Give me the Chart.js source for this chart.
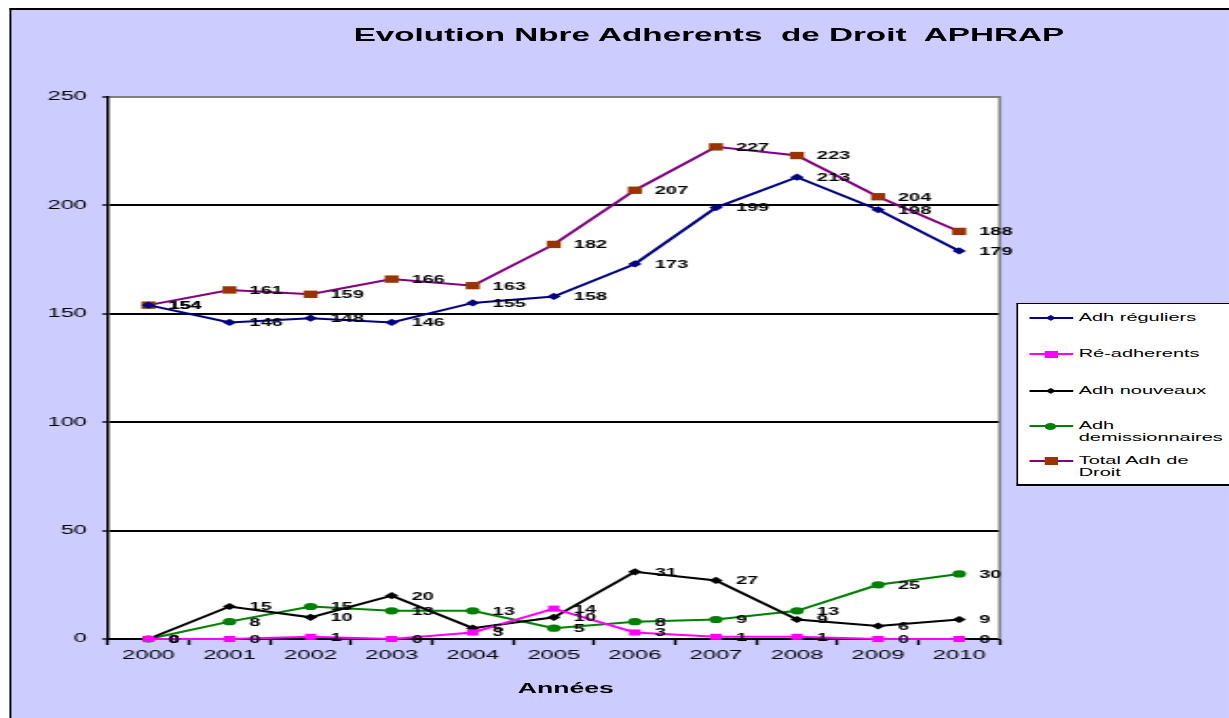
<!DOCTYPE html>
<html>
<head>
<meta charset="utf-8">
<script src="https://cdn.jsdelivr.net/npm/chart.js@4.4.0/dist/chart.umd.min.js"></script>
<style>
  html, body { margin: 0; padding: 0; background: #fff; overflow: hidden; }
  /* the original picture is stretched sideways, so the whole chart is too */
  #frame { position: absolute; left: 0; top: 0; width: 647px; height: 718px;
           transform: scaleX(1.8995); transform-origin: 0 0; overflow: hidden;
           font-family: Arial, "Liberation Sans", sans-serif; color: #000; }
  #bg { position: absolute; left: 5.3px; top: 8px; right: 0; bottom: 0; background: #ccccff;
        border-left: 1.6px solid #000; border-top: 2px solid #000; }
  #chart { position: absolute; left: 0; top: 0; }
  #title { position: absolute; top: 25px; left: 373.2px; transform: translateX(-50%);
           font-weight: bold; font-size: 17.5px; line-height: 20px; white-space: pre; }
  #xtitle { position: absolute; top: 679px; left: 297.9px; transform: translateX(-50%);
            font-weight: bold; font-size: 14px; line-height: 18px; white-space: pre; }
  #legend { position: absolute; left: 535.3px; top: 303px; width: 140px; height: 180px; background: #fff;
            border-left: 1.5px solid #000; border-top: 1.5px solid #000; border-bottom: 2.5px solid #000; }
  .lg-line { position: absolute; width: 22.6px; height: 1.8px; }
  .lg-mark { position: absolute; }
  .lg-text { position: absolute; font-size: 10.5px; line-height: 11.5px; white-space: nowrap; }
</style>
</head>
<body>
<div id="frame">
  <div id="bg"></div>
  <canvas id="chart" width="647" height="718"></canvas>
  <div id="title">Evolution Nbre Adherents  de Droit  APHRAP</div>
  <div id="xtitle">Années</div>
  <div id="legend"></div>
</div>
<script>
// data
const years = ['2000', '2001', '2002', '2003', '2004', '2005', '2006', '2007', '2008', '2009', '2010'];
const adhReguliers = [154, 146, 148, 146, 155, 158, 173, 199, 213, 198, 179];
const reAdherents = [0, 0, 1, 0, 3, 14, 3, 1, 1, 0, 0];
const adhNouveaux = [0, 15, 10, 20, 5, 10, 31, 27, 9, 6, 9];
const adhDemissionnaires = [0, 8, 15, 13, 13, 5, 8, 9, 13, 25, 30];
const totalAdhDroit = [154, 161, 159, 166, 163, 182, 207, 227, 223, 204, 188];
const yTicks = [0, 50, 100, 150, 200, 250];

const FONT = 'Arial, "Liberation Sans", sans-serif';

// white plot area + grey right edge
const plotFrame = {
  id: 'plotFrame',
  beforeDraw(chart) {
    const { ctx, chartArea: a } = chart;
    ctx.save();
    ctx.fillStyle = '#fff';
    ctx.fillRect(a.left, a.top, a.right - a.left, a.bottom - a.top);
    ctx.restore();
  },
  beforeDatasetsDraw(chart) {
    const { ctx, chartArea: a } = chart;
    ctx.save();
    ctx.strokeStyle = '#808080';
    ctx.lineWidth = 1.6;
    ctx.beginPath();
    ctx.moveTo(a.right, a.top - 1);
    ctx.lineTo(a.right, a.bottom);
    ctx.stroke();
    ctx.restore();
  }
};

// value next to every point
const valueLabels = {
  id: 'valueLabels',
  afterDatasetsDraw(chart) {
    const ctx = chart.ctx;
    ctx.save();
    ctx.font = 'bold 10.5px ' + FONT;
    ctx.fillStyle = '#000';
    ctx.textAlign = 'left';
    ctx.textBaseline = 'middle';
    chart.data.datasets.forEach((ds, i) => {
      chart.getDatasetMeta(i).data.forEach((pt, j) => {
        ctx.fillText(String(ds.data[j]), pt.x + 10.5, pt.y + 1);
      });
    });
    ctx.restore();
  }
};

function series(label, data, line, fill, style, radius) {
  return {
    label: label, data: data,
    borderColor: line, backgroundColor: fill,
    borderWidth: 2,
    pointStyle: style, pointRadius: radius,
    pointBackgroundColor: fill, pointBorderColor: fill, pointBorderWidth: 0,
    tension: 0, clip: false
  };
}

const datasets = [
  series('Adh réguliers', adhReguliers, '#000080', '#000080', 'rectRot', 3.6),
  series('Ré-adherents', reAdherents, '#ff00ff', '#ff00ff', 'rect', 4.3),
  series('Adh nouveaux', adhNouveaux, '#000000', '#000000', 'rectRot', 3.6),
  series('Adh demissionnaires', adhDemissionnaires, '#008000', '#008000', 'circle', 3.6),
  series('Total Adh de Droit', totalAdhDroit, '#800080', '#993300', 'rect', 5.2)
];

new Chart(document.getElementById('chart'), {
  type: 'line',
  data: { labels: years, datasets: datasets },
  options: {
    responsive: false,
    animation: false,
    devicePixelRatio: 1,
    events: [],
    layout: { padding: { left: 0, top: 97, right: 120.7, bottom: 0 } },
    plugins: { legend: { display: false }, tooltip: { enabled: false } },
    scales: {
      x: {
        offset: true,
        afterFit(scale) { scale.height = 79; },
        grid: { offset: true, drawOnChartArea: false, drawTicks: true, tickLength: 6, tickWidth: 1.4, color: '#000' },
        border: { display: true, color: '#000', width: 2 },
        ticks: { color: '#000', font: { family: FONT, size: 12.5 }, padding: 3, maxRotation: 0 }
      },
      y: {
        min: yTicks[0], max: yTicks[yTicks.length - 1],
        afterFit(scale) { scale.width = 56.8; },
        afterBuildTicks(scale) { scale.ticks = yTicks.map(v => ({ value: v })); },
        grid: {
          color: ctx => (ctx.tick && ctx.tick.value === 250 ? '#808080' : '#000'),
          lineWidth: 2, tickLength: 3, tickWidth: 1.4, tickColor: '#000'
        },
        border: { display: true, color: '#000', width: 1.5 },
        ticks: { color: '#000', font: { family: FONT, size: 12.5 }, padding: 8 }
      }
    }
  },
  plugins: [plotFrame, valueLabels]
});

// legend, built from the datasets
const legendRowY = [318, 354, 391, 426, 461];
const legendText = [['Adh réguliers'], ['Ré-adherents'], ['Adh nouveaux'], ['Adh', 'demissionnaires'], ['Total Adh de', 'Droit']];
const frame = document.getElementById('frame');

function addEl(cls, css, text) {
  const el = document.createElement('div');
  el.className = cls;
  Object.assign(el.style, css);
  if (text) el.innerHTML = text;
  frame.appendChild(el);
  return el;
}

datasets.forEach((ds, i) => {
  const y = legendRowY[i];
  addEl('lg-line', { left: '542.1px', top: (y - 0.9) + 'px', background: ds.borderColor });
  let w, h, extra = {};
  if (ds.pointStyle === 'rectRot') { w = 4.4; h = 4.4; extra.transform = 'rotate(45deg)'; }
  else if (ds.pointStyle === 'circle') { w = 6.3; h = 7; extra.borderRadius = '50%'; }
  else if (i === 4) { w = 7; h = 8; }
  else { w = 6.8; h = 7; }
  addEl('lg-mark', Object.assign({ left: (553.2 - w / 2) + 'px', top: (y - h / 2) + 'px',
        width: w + 'px', height: h + 'px', background: ds.pointBackgroundColor }, extra));
  addEl('lg-text', { left: '567.9px', top: (y - 5.75) + 'px' }, legendText[i].join('<br>'));
});
</script>
</body>
</html>
